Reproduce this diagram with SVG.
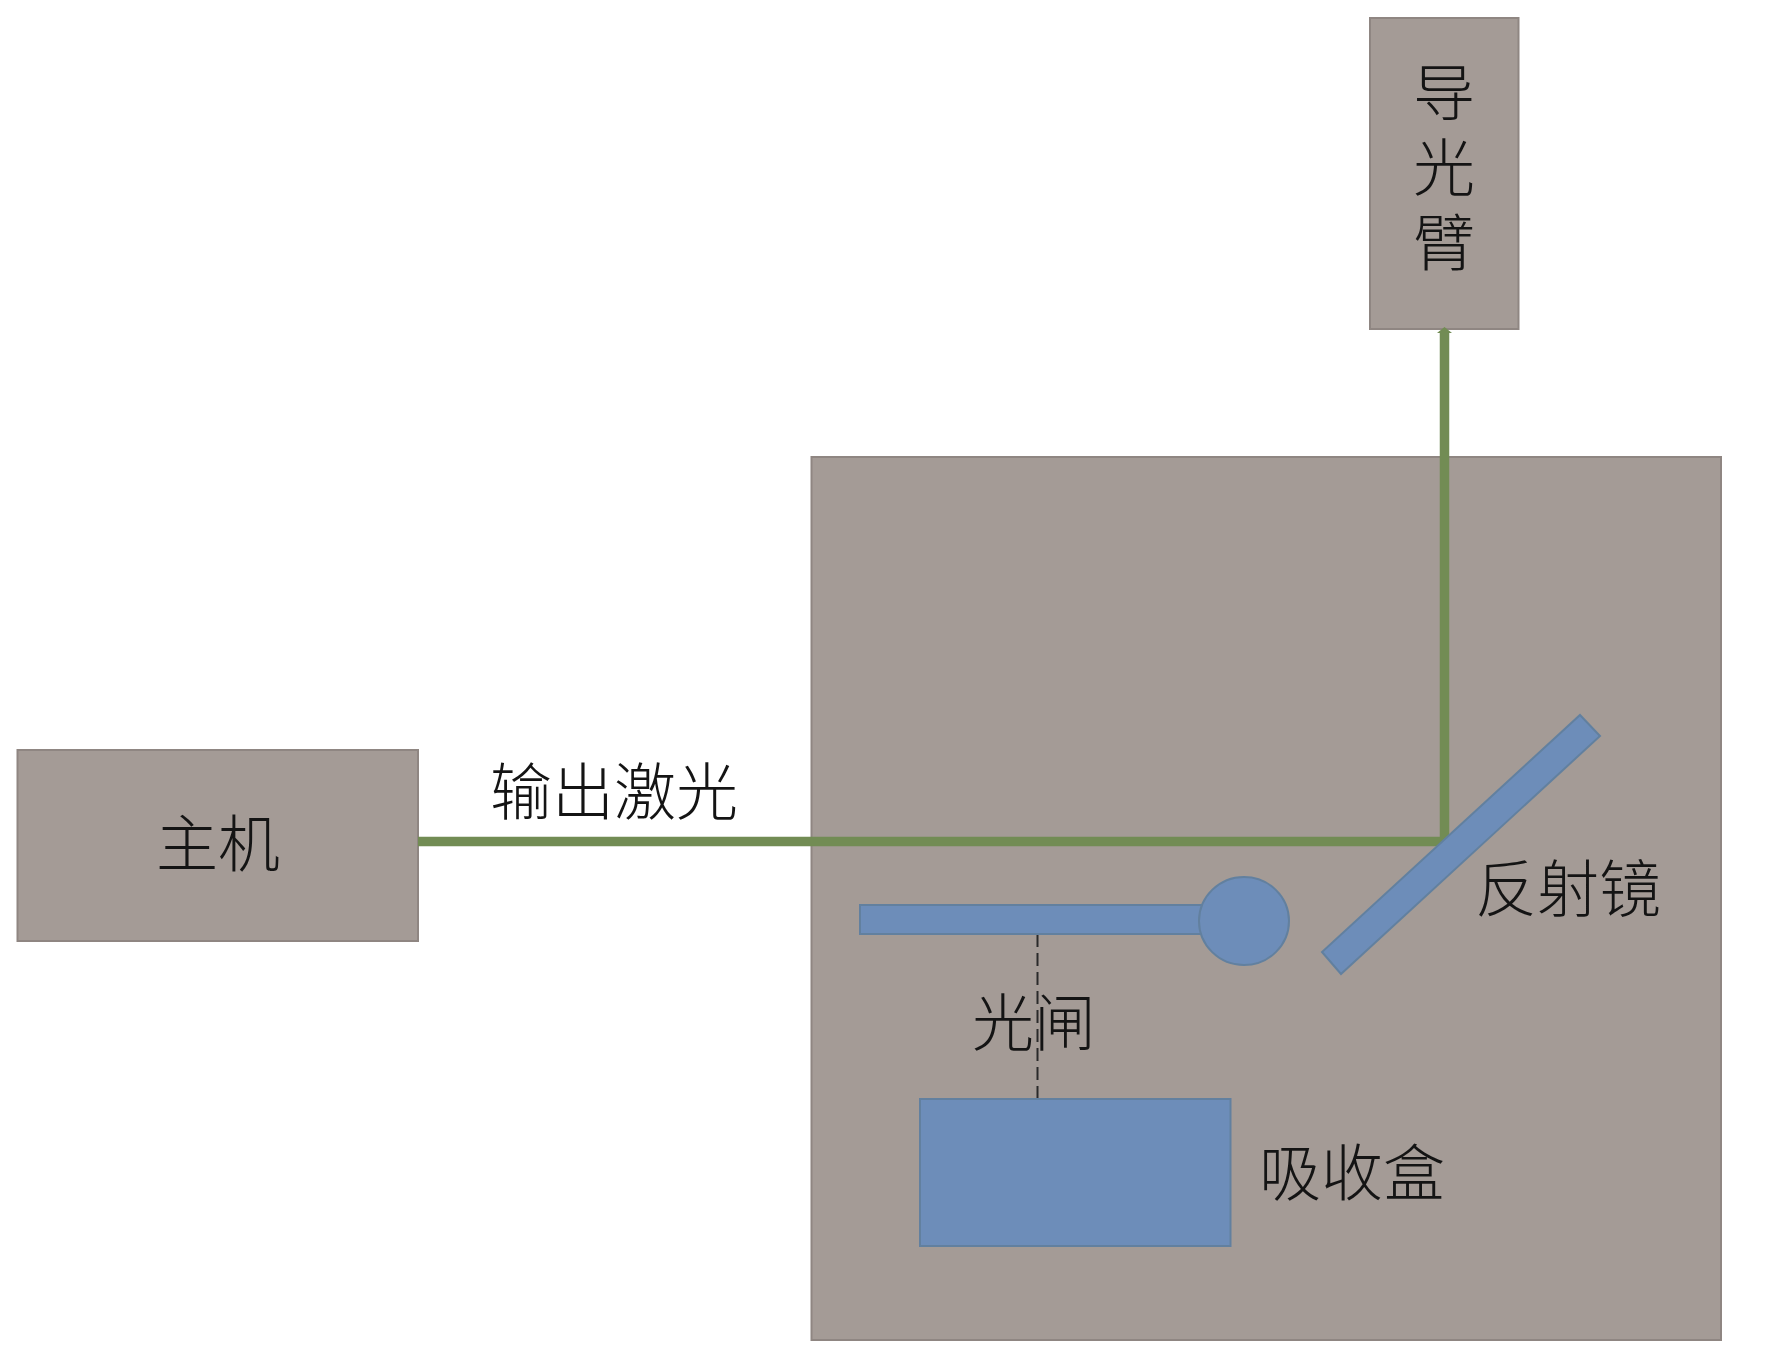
<svg xmlns="http://www.w3.org/2000/svg" width="1772" height="1363" viewBox="0 0 1772 1363">
<style>
.g{fill:#a49b96;stroke:#8f8682;stroke-width:2}
.b{fill:#6d8db9;stroke:#62809f;stroke-width:2}
.t{font-family:"Noto Sans CJK SC","Noto Sans CJK JP",sans-serif;font-size:62px;font-weight:300;fill:#141414;text-anchor:middle}
.v{writing-mode:vertical-rl;text-anchor:start;letter-spacing:13px}
.beam{fill:none;stroke:#728c54;stroke-width:9.5}
</style>
<rect width="1772" height="1363" fill="#fff"/>
<g id="enclosure"><rect class="g" x="811.5" y="457" width="909.500" height="883"/></g>
<g id="host"><rect class="g" x="17.5" y="750" width="400.500" height="191"/><text class="t" x="218" y="867">主机</text></g>
<g id="light-guide-arm"><rect class="g" x="1370" y="18" width="148.500" height="311"/>
<text class="t v" x="1444" y="61">导光臂</text></g>
<g id="connectors">
<polyline class="beam" points="418,841.500 1444.500,841.500 1444.500,331"/>
<polygon points="1437,333 1444.500,327 1452,333" fill="#728c54"/>
<line x1="1037.500" y1="934" x2="1037.500" y2="1099" stroke="#2a2a2a" stroke-width="2" stroke-dasharray="13 6"/>
</g>
<g id="mirror"><polygon class="b" points="1580,715 1600,736 1341,974 1322,952"/><text class="t" x="1568" y="912">反射镜</text></g>
<g id="shutter"><rect class="b" x="860" y="905" width="342" height="29"/><ellipse class="b" cx="1244" cy="921" rx="45" ry="44"/><text class="t" x="1034" y="1046">光闸</text></g>
<g id="absorber"><rect class="b" x="920" y="1099" width="310.500" height="147"/><text class="t" x="1352" y="1196">吸收盒</text></g>
<g id="output-label"><text class="t" x="614" y="815">输出激光</text></g>
</svg>
